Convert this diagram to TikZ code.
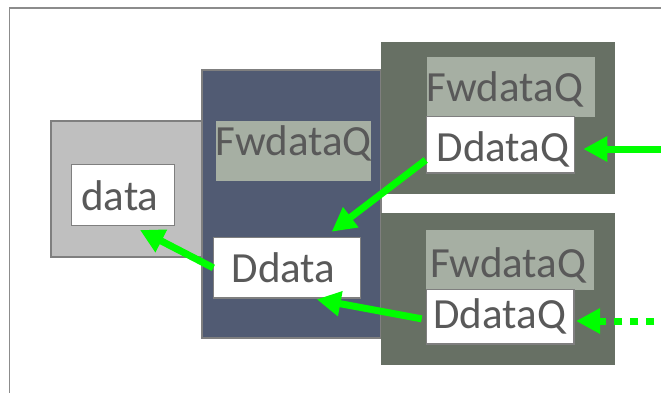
\documentclass[tikz,border=0pt]{standalone}
\usepackage{fontspec}
\setmainfont{Carlito}
\usetikzlibrary{arrows.meta,calc}
\definecolor{txtgray}{HTML}{595959}
\definecolor{edgegray}{HTML}{7F7F7F}
\definecolor{framegray}{HTML}{8C8C8C}
\definecolor{hostfill}{HTML}{BFBFBF}
\definecolor{slatefill}{HTML}{515B73}
\definecolor{mossfill}{HTML}{677064}
\definecolor{sagefill}{HTML}{A6AFA3}
\definecolor{flowgreen}{HTML}{00FF00}
\tikzset{
  panel/.style={anchor=north west, inner sep=0pt, outer sep=0pt},
  edged/.style={panel, draw=edgegray, line width=1.3pt},
  bufbox/.style={edged, fill=white},
  qbar/.style={panel, fill=sagefill},
  lbl/.style={anchor=base west, inner sep=0pt, outer sep=0pt, text=txtgray,
    font=\fontsize{43}{47}\selectfont},
  flow/.style={draw=flowgreen, line width=7pt,
    -{Triangle[length=24pt,width=24pt]}},
}
\begin{document}
\begin{tikzpicture}[x=1pt,y=-1pt]
\useasboundingbox (0,0) rectangle (661,392);
\clip (0,0) rectangle (661,392);
% outer frame
\draw[framegray, line width=1.3pt] (9.5,8) rectangle (700,430);

% host side
\node[edged, fill=hostfill, minimum width=155pt, minimum height=136pt] (host) at (51,121) {};
\node[bufbox, minimum width=102.6pt, minimum height=60.6pt] (data) at (71.7,164.7) {};
\node[lbl] (datat) at (81.3,210) {data};

% forwarding stage
\node[edged, fill=slatefill, minimum width=179pt, minimum height=268pt] (fwd) at (202,70) {};
\node[qbar, minimum width=155pt, minimum height=60pt] (fq0) at (216,121) {};
\node[lbl] (fq0t) at (215.3,155) {FwdataQ};
\node[bufbox, minimum width=147.4pt, minimum height=60.3pt] (dd) at (213.3,237.7) {};
\node[lbl] (ddt) at (231.7,282) {Ddata};

% upper receiver
\node[panel, fill=mossfill, minimum width=234pt, minimum height=152.3pt] (rx1) at (381,42) {};
\node[qbar, minimum width=168pt, minimum height=59.7pt] (fq1) at (427,57) {};
\node[lbl] (fq1t) at (426.8,101.7) {FwdataQ};
\node[bufbox, minimum width=147.6pt, minimum height=56.3pt] (dq1) at (426.7,116.7) {};
\node[lbl] (dq1t) at (436.7,161.7) {DdataQ};

% lower receiver
\node[panel, fill=mossfill, minimum width=234pt, minimum height=152.3pt] (rx2) at (381,213) {};
\node[qbar, minimum width=168pt, minimum height=60pt] (fq2) at (426,229.7) {};
\node[lbl] (fq2t) at (430.1,277) {FwdataQ};
\node[bufbox, minimum width=147.3pt, minimum height=54.3pt] (dq2) at (426.7,289.7) {};
\node[lbl] (dq2t) at (433.4,328.7) {DdataQ};

% data flow
\coordinate (in1) at (661,149);
\coordinate (in2) at (661,321);
\draw[flow] (in1) -- ($(in1 -| dq1.east)+(9,0)$);
\draw[flow] ($(dq1.south west)+(-1,-13)$) -- ($(dd.north)+(44.7,-6)$);
\draw[flow] (dd.west) -- ($(data.south)+(17,4.7)$);
\draw[flow] ($(dq2.west)+(-5,2)$) -- ($(dd.south)+(29.7,1.3)$);
\draw[flow, dash pattern=on 8pt off 8pt, dash phase=9.3pt] (in2) -- ($(in2 -| dq2.east)+(2,0)$);
\end{tikzpicture}
\end{document}
